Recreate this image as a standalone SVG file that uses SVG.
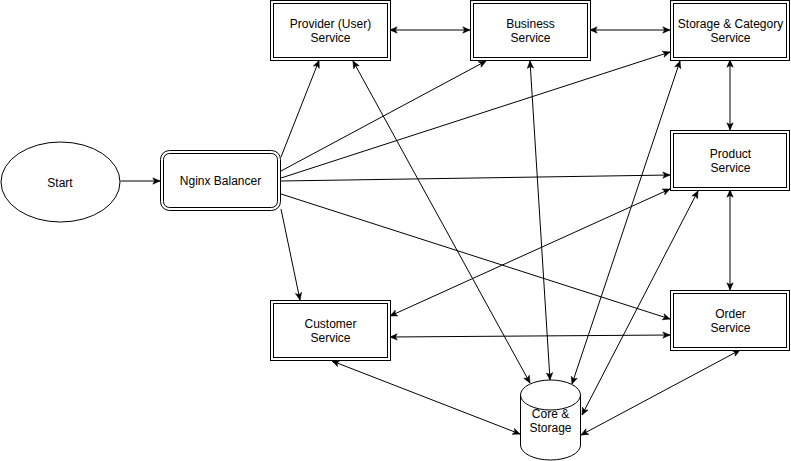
<svg xmlns="http://www.w3.org/2000/svg" width="791" height="461" viewBox="0 0 791 461">
<style>
.box{fill:#fff;stroke:#000;stroke-width:1}
.in{fill:none;stroke:#000;stroke-width:1}
.t{font-family:"Liberation Sans",Arial,sans-serif;font-size:12px;fill:#000;text-anchor:middle}
.e{fill:none;stroke:#000;stroke-width:1}
.one{marker-end:url(#ah)}
.two{marker-start:url(#ah);marker-end:url(#ah)}
</style>
<defs>
<marker id="ah" viewBox="0 0 10 10" refX="9" refY="5" markerWidth="9" markerHeight="9" markerUnits="userSpaceOnUse" orient="auto-start-reverse">
<path d="M1,1.5 L9,5 L1,8.5 L3,5 z" fill="#000" stroke="#000" stroke-width="0.6"/>
</marker>
</defs>
<rect width="791" height="461" fill="#fff"/>
<g id="connectors">
<path class="e one" d="M120.5,181 L160,181"/>
<path class="e one" d="M281,157 L319,60.5"/>
<path class="e one" d="M281,171 L486,61"/>
<path class="e one" d="M281,178 L670,52"/>
<path class="e one" d="M281,181 L670,175"/>
<path class="e one" d="M281,194 L670,319"/>
<path class="e one" d="M281,209 L300,300"/>
<path class="e two" d="M390,30 L470,30"/>
<path class="e two" d="M590,30 L670,30"/>
<path class="e two" d="M730,60 L730,130"/>
<path class="e two" d="M730,190 L730,290"/>
<path class="e two" d="M353,61 L530,383"/>
<path class="e two" d="M530,61 L550,380"/>
<path class="e two" d="M680,61 L572,384"/>
<path class="e two" d="M698,191 L582,415"/>
<path class="e two" d="M740,350 L581,435"/>
<path class="e two" d="M332,361 L520,434"/>
<path class="e two" d="M390,337 L670,335"/>
<path class="e two" d="M390,316 L670,189"/>
</g>
<g id="start">
<ellipse class="box" cx="60.5" cy="182" rx="59.5" ry="40"/>
<text class="t" x="60" y="186.5">Start</text>
</g>
<g id="nginx">
<rect class="box" x="160.5" y="150.5" width="120" height="60" rx="9"/>
<rect class="in" x="163.5" y="153.5" width="114" height="54" rx="6"/>
<text class="t" x="220.5" y="185">Nginx Balancer</text>
</g>
<g id="provider">
<rect class="box" x="270.5" y="0.5" width="120" height="60"/>
<rect class="in" x="273.5" y="3.5" width="114" height="54"/>
<text class="t" x="330.5" y="27.5">Provider (User)</text>
<text class="t" x="330.5" y="41.5">Service</text>
</g>
<g id="business">
<rect class="box" x="470.5" y="0.5" width="120" height="60"/>
<rect class="in" x="473.5" y="3.5" width="114" height="54"/>
<text class="t" x="530.5" y="27.5">Business</text>
<text class="t" x="530.5" y="41.5">Service</text>
</g>
<g id="storage-category">
<rect class="box" x="670.5" y="0.5" width="119" height="60"/>
<rect class="in" x="673.5" y="3.5" width="113" height="54"/>
<text class="t" x="730.5" y="27.5">Storage &amp; Category</text>
<text class="t" x="730.5" y="41.5">Service</text>
</g>
<g id="product">
<rect class="box" x="670.5" y="130.5" width="119" height="60"/>
<rect class="in" x="673.5" y="133.5" width="113" height="54"/>
<text class="t" x="730.5" y="157.5">Product</text>
<text class="t" x="730.5" y="171.5">Service</text>
</g>
<g id="order">
<rect class="box" x="670.5" y="290.5" width="119" height="60"/>
<rect class="in" x="673.5" y="293.5" width="113" height="54"/>
<text class="t" x="730.5" y="317.5">Order</text>
<text class="t" x="730.5" y="331.5">Service</text>
</g>
<g id="customer">
<rect class="box" x="270.5" y="300.5" width="120" height="60"/>
<rect class="in" x="273.5" y="303.5" width="114" height="54"/>
<text class="t" x="330.5" y="327.5">Customer</text>
<text class="t" x="330.5" y="341.5">Service</text>
</g>
<g id="core-storage">
<path class="box" d="M520.5,395 L520.5,445 A30,15 0 0 0 580.5,445 L580.5,395 A30,15 0 0 0 520.5,395 z"/>
<path class="in" d="M520.5,395 A30,15 0 0 0 580.5,395"/>
<text class="t" x="550.5" y="417.5">Core &amp;</text>
<text class="t" x="550.5" y="431.5">Storage</text>
</g>
</svg>
